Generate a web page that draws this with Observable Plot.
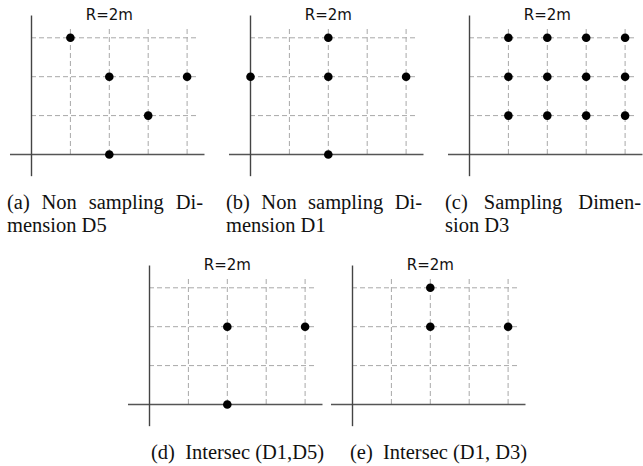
<!DOCTYPE html>
<html>
<head>
<meta charset="utf-8">
<script src="https://cdn.jsdelivr.net/npm/d3@7"></script>
<script src="https://cdn.jsdelivr.net/npm/@observablehq/plot@0.6"></script>
<style>
  html, body { margin: 0; padding: 0; background: #fff; overflow: hidden; }
  #root { position: relative; width: 643px; height: 466px; }
  .panel { position: absolute; }
  .cap { position: absolute; font-family: "Liberation Serif", "Times New Roman", serif; font-size: 20.5px; line-height: 23px; color: #111; white-space: nowrap; }
  .just { text-align: justify; text-align-last: justify; }
</style>
</head>
<body>
<div id="root"></div>
<script>
// ---- data ----
const gridX = [1, 2, 3, 4];
const gridY = [1, 2, 3];
const panelTitle = "R=2m";

const pointsA = [{x: 1, y: 3}, {x: 2, y: 2}, {x: 4, y: 2}, {x: 3, y: 1}, {x: 2, y: 0}];
const pointsB = [{x: 0, y: 2}, {x: 2, y: 3}, {x: 2, y: 2}, {x: 4, y: 2}, {x: 2, y: 0}];
const pointsC = [
  {x: 1, y: 3}, {x: 2, y: 3}, {x: 3, y: 3}, {x: 4, y: 3},
  {x: 1, y: 2}, {x: 2, y: 2}, {x: 3, y: 2}, {x: 4, y: 2},
  {x: 1, y: 1}, {x: 2, y: 1}, {x: 3, y: 1}, {x: 4, y: 1}
];
const pointsD = [{x: 2, y: 2}, {x: 4, y: 2}, {x: 2, y: 0}];
const pointsE = [{x: 2, y: 3}, {x: 2, y: 2}, {x: 4, y: 2}];

const captionsTop = [
  ["(a) Non sampling Di-", "mension D5"],
  ["(b) Non sampling Di-", "mension D1"],
  ["(c) Sampling Dimen-", "sion D3"]
];
const captionsBottom = ["(d)\u00a0 Intersec (D1,D5)", "(e)\u00a0 Intersec (D1, D3)"];

// ---- layout ----
const root = document.getElementById("root");
const step = 38.9;
const ox = 31, oy = 154;

function panel(points, left, top) {
  const chart = Plot.plot({
    width: 215,
    height: 185,
    x: {domain: [0, 4], range: [ox, ox + 4 * step], axis: null},
    y: {domain: [0, 3], range: [oy, oy - 3 * step], axis: null},
    style: {overflow: "visible", background: "transparent"},
    marks: [
      Plot.ruleX(gridX, {x: d => d, y1: 0, y2: 3.28, stroke: "#a8a8a8", strokeWidth: 1, strokeDasharray: "5,3"}),
      Plot.ruleY(gridY, {y: d => d, x1: 0, x2: 4.26, stroke: "#a8a8a8", strokeWidth: 1, strokeDasharray: "5,3"}),
      Plot.ruleY([0], {x1: -0.54, x2: 4.46, stroke: "#555", strokeWidth: 1.6}),
      Plot.ruleX([0], {y1: -0.57, y2: 3.56, stroke: "#444", strokeWidth: 1.4}),
      Plot.dot(points, {x: "x", y: "y", r: 4.3, fill: "#000", stroke: "none"}),
      Plot.text([panelTitle], {x: 2, y: 3.45, text: d => d, lineAnchor: "bottom", fontSize: 15, fontFamily: "DejaVu Sans", fill: "#111"})
    ]
  });
  chart.classList.add("panel");
  chart.style.left = left + "px";
  chart.style.top = top + "px";
  root.appendChild(chart);
}

panel(pointsA, 0, 0);
panel(pointsB, 219, 0);
panel(pointsC, 438.3, 0);
panel(pointsD, 118, 250);
panel(pointsE, 321.3, 250);

const capLefts = [7, 226, 445];
captionsTop.forEach((lines, i) => {
  const d = document.createElement("div");
  d.className = "cap";
  d.style.left = capLefts[i] + "px";
  d.style.top = "190.5px";
  d.style.width = "196px";
  const l1 = document.createElement("div");
  l1.className = "just";
  l1.textContent = lines[0];
  const l2 = document.createElement("div");
  l2.textContent = lines[1];
  d.appendChild(l1); d.appendChild(l2);
  root.appendChild(d);
});

const capBottomLefts = [151, 350];
captionsBottom.forEach((t, i) => {
  const d = document.createElement("div");
  d.className = "cap";
  d.style.left = capBottomLefts[i] + "px";
  d.style.top = "440.5px";
  d.textContent = t;
  root.appendChild(d);
});
</script>
</body>
</html>
